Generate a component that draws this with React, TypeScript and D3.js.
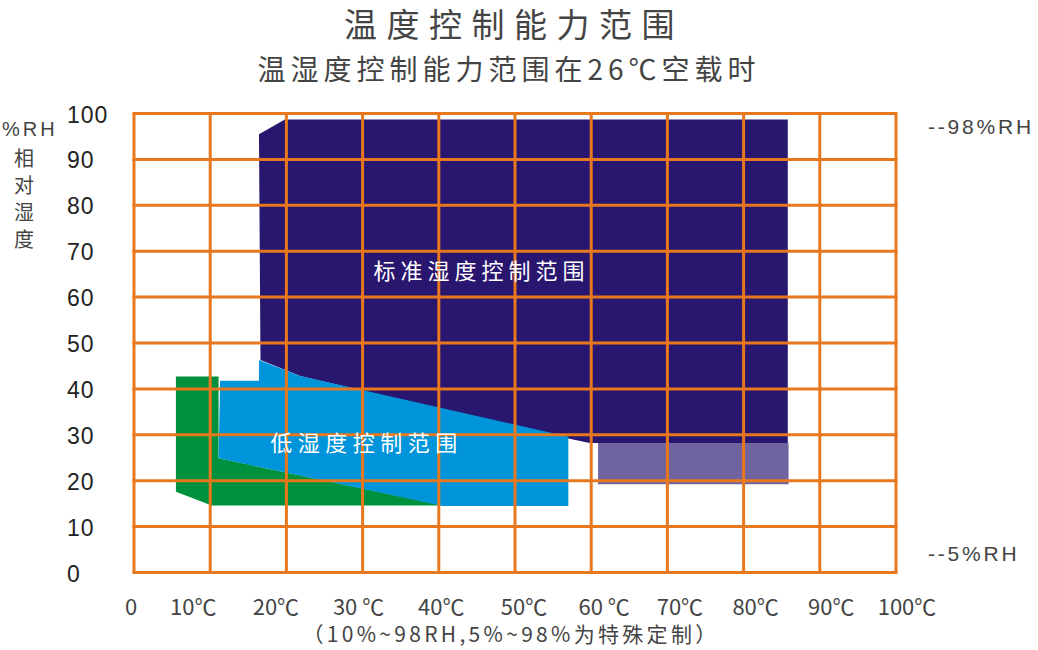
import React from 'react';
import * as d3 from 'd3';

// axis ticks
const tempTicks = [0, 10, 20, 30, 40, 50, 60, 70, 80, 90, 100];
const tempLabels = ['0', '10℃', '20℃', '30 ℃', '40℃', '50℃', '60 ℃', '70℃', '80℃', '90℃', '100℃'];
const rhTicks = [0, 10, 20, 30, 40, 50, 60, 70, 80, 90, 100];

// regions: [temperature °C, humidity %RH]
const standardRegion: [number, number][] = [
    [16.4, 95.5], [19.8, 98.7], [85.8, 98.7], [85.8, 28.2], [59.8, 28.2],
    [55.9, 29.6], [21.8, 42.8], [16.6, 46.3],
];
const specialRegion: [number, number][] = [
    [60.9, 28.2], [85.9, 28.2], [85.9, 19.2], [60.9, 19.2],
];
const greenRegion: [number, number][] = [
    [5.5, 42.7], [11.1, 42.7], [11.1, 24.9], [40.6, 14.6], [10.2, 14.6], [5.5, 17.6],
];
const lowRegion: [number, number][] = [
    [11.3, 41.8], [16.4, 41.8], [16.4, 46.3], [21.8, 42.8], [57.0, 29.6],
    [57.0, 14.5], [40.6, 14.5], [11.1, 24.9],
];
const rightMarks = [
    { rh: 98, text: '--98%RH' },
    { rh: 5, text: '--5%RH' },
];
const yTitleChars = ['相', '对', '湿', '度'];

const W = 1038;
const H = 650;
const orange = '#e8781e';
const grey = '#444';

export default function App() {
    const x = d3.scaleLinear().domain([0, 100]).range([134, 896]);
    const y = d3.scaleLinear().domain([0, 100]).range([572.5, 113.5]);
    // the x labels sit a bit off their grid lines in the original
    const xLabel = d3.scaleLinear()
        .domain([0, 10, 50, 60, 100])
        .range([x(0) - 3, x(10) - 17, x(50) + 9, x(60) + 13, x(100) + 11]);

    const line = d3.line<[number, number]>()
        .x(d => x(d[0]))
        .y(d => y(d[1]))
        .curve(d3.curveLinearClosed);

    const cjk = '"Noto Sans CJK SC", "Noto Sans", sans-serif';
    const num = '"Liberation Sans", Arial, sans-serif';

    return (
        <div style={{ position: 'absolute', left: 0, top: 0 }}>
            <svg width={W} height={H} style={{ display: 'block', background: '#fff' }}>
                {/* titles */}
                <text x={514} y={37} textAnchor="middle" fontFamily={cjk} fontSize={33}
                    letterSpacing={9.5} fill={grey}>温度控制能力范围</text>
                <text x={509} y={80} textAnchor="middle" fontFamily={cjk} fontSize={28}
                    letterSpacing={5} fill={grey}>温湿度控制能力范围在26℃空载时</text>

                {/* regions */}
                <path d={line(standardRegion) ?? ''} fill="#29176f" />
                <path d={line(specialRegion) ?? ''} fill="#6f63a0" />
                <path d={line(greenRegion) ?? ''} fill="#00913f" />
                <path d={line(lowRegion) ?? ''} fill="#0094da" />

                {/* grid */}
                {tempTicks.map(t => (
                    <line key={'v' + t} x1={x(t)} x2={x(t)} y1={y(100)} y2={y(0)}
                        stroke={orange} strokeWidth={3} />
                ))}
                {rhTicks.map(t => (
                    <line key={'h' + t} x1={x(0) - 1.5} x2={x(100) + 1.5} y1={y(t)} y2={y(t)}
                        stroke={orange} strokeWidth={3} />
                ))}

                {/* region labels */}
                <text x={x(45.6)} y={y(64)} textAnchor="middle" fontFamily={cjk} fontSize={22}
                    letterSpacing={5} fill="#fff">标准湿度控制范围</text>
                <text x={x(30.5)} y={y(26.5)} textAnchor="middle" fontFamily={cjk} fontSize={22}
                    letterSpacing={5.5} fill="#fff">低湿度控制范围</text>

                {/* y axis labels */}
                {rhTicks.map(t => (
                    <text key={'yl' + t} x={67} y={y(t) + 9} fontFamily={num} fontSize={23}
                        letterSpacing={1} fill="#222">{t}</text>
                ))}
                <text x={2} y={136} fontFamily={num} fontSize={20} letterSpacing={3} fill={grey}>%RH</text>
                {yTitleChars.map((c, i) => (
                    <text key={c} x={24} y={166 + i * 27} textAnchor="middle" fontFamily={cjk}
                        fontSize={20} fill={grey}>{c}</text>
                ))}

                {/* x axis labels */}
                {tempTicks.map((t, i) => (
                    <text key={'xl' + t} x={xLabel(t)} y={615} textAnchor="middle"
                        fontFamily={cjk} fontSize={22} fill={grey}>{tempLabels[i]}</text>
                ))}
                <text x={511} y={642} textAnchor="middle" fontFamily={cjk} fontSize={21}
                    letterSpacing={3.3} fill={grey}>（10%~98RH,5%~98%为特殊定制）</text>

                {/* right side marks */}
                {rightMarks.map(m => (
                    <text key={m.text} x={928} y={y(m.rh) + 11} fontFamily={num} fontSize={21}
                        letterSpacing={2.8} fill={grey}>{m.text}</text>
                ))}
            </svg>
        </div>
    );
}
